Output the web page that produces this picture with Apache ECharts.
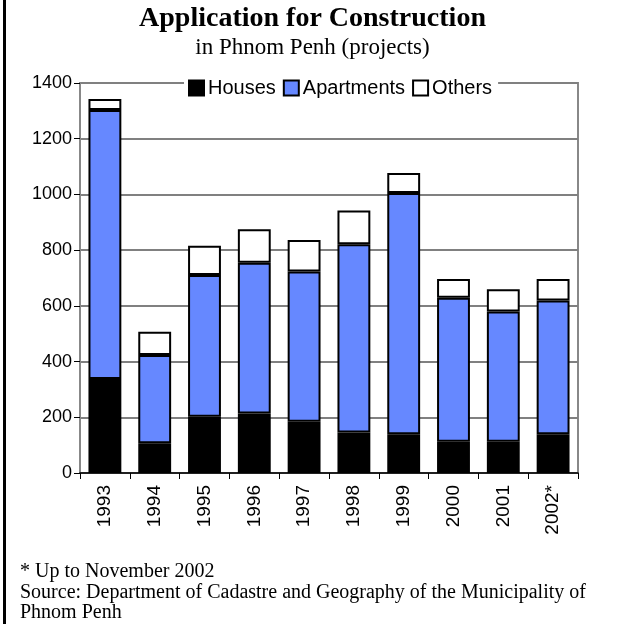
<!DOCTYPE html>
<html>
<head>
<meta charset="utf-8">
<script src="https://cdn.jsdelivr.net/npm/echarts@6/dist/echarts.min.js"></script>
<style>
  html, body { margin: 0; padding: 0; background: #fff; }
  #chart { width: 625px; height: 624px; }
</style>
</head>
<body>
<div id="chart"></div>
<script>
const years = ['1993', '1994', '1995', '1996', '1997', '1998', '1999', '2000', '2001', '2002*']
const houses = [337, 107, 202, 214, 184, 145, 139, 112, 112, 139]
const apartments = [966, 317, 509, 541, 539, 676, 866, 517, 468, 480]
const others = [40, 83, 105, 120, 113, 121, 72, 67, 80, 77]

const chart = echarts.init(document.getElementById('chart'))

const barStyle = (color) => ({
  color: color,
  borderColor: '#000',
  borderWidth: 2
})

chart.setOption({
  animation: false,
  title: [
    {
      text: 'Application for Construction',
      left: 'center',
      top: 0,
      textStyle: { fontFamily: 'Liberation Serif', fontSize: 28, fontWeight: 'bold', color: '#000' }
    },
    {
      text: 'in Phnom Penh (projects)',
      left: 'center',
      top: 31,
      textStyle: { fontFamily: 'Liberation Serif', fontSize: 23, fontWeight: 'normal', color: '#000' }
    }
  ],
  legend: {
    data: ['Houses', 'Apartments', 'Others'],
    left: 184,
    top: 76,
    icon: 'rect',
    itemWidth: 15,
    itemHeight: 15,
    itemGap: 7,
    padding: [2, 6, 2, 4],
    backgroundColor: '#fff',
    textStyle: { fontFamily: 'Liberation Sans', fontSize: 20, color: '#000', padding: [0, 0, 0, -1] }
  },
  grid: {
    left: 80,
    right: 47,
    top: 83,
    bottom: 151,
    show: true,
    borderColor: '#888',
    borderWidth: 2
  },
  xAxis: {
    type: 'category',
    data: years,
    axisLine: { lineStyle: { color: '#000', width: 1.5 } },
    axisTick: { show: true, length: 6, lineStyle: { color: '#000' } },
    axisLabel: {
      rotate: 90,
      margin: 12,
      fontFamily: 'Liberation Sans',
      fontSize: 19,
      color: '#000'
    }
  },
  yAxis: {
    type: 'value',
    min: 0,
    max: 1400,
    interval: 200,
    axisLine: { show: true, lineStyle: { color: '#888', width: 2 } },
    axisTick: { show: true, length: 6, lineStyle: { color: '#000' } },
    splitLine: { lineStyle: { color: '#808080', width: 2 } },
    axisLabel: {
      margin: 8,
      fontFamily: 'Liberation Sans',
      fontSize: 18,
      color: '#000',
      formatter: (v) => String(v)
    }
  },
  series: [
    { name: 'Houses', type: 'bar', stack: 'total', data: houses, barWidth: '66%', itemStyle: barStyle('#000') },
    { name: 'Apartments', type: 'bar', stack: 'total', data: apartments, itemStyle: barStyle('#6688ff') },
    { name: 'Others', type: 'bar', stack: 'total', data: others, itemStyle: barStyle('#fff') }
  ],
  graphic: [
    { type: 'rect', shape: { x: 3, y: 0, width: 3, height: 624 }, style: { fill: '#000' } },
    {
      type: 'text', left: 20, top: 562,
      style: { text: '* Up to November 2002', fontFamily: 'Liberation Serif', fontSize: 20, fill: '#000' }
    },
    {
      type: 'text', left: 20, top: 583,
      style: {
        text: 'Source: Department of Cadastre and Geography of the Municipality of\nPhnom Penh',
        fontFamily: 'Liberation Serif', fontSize: 20, lineHeight: 20, fill: '#000'
      }
    }
  ]
})
</script>
</body>
</html>
